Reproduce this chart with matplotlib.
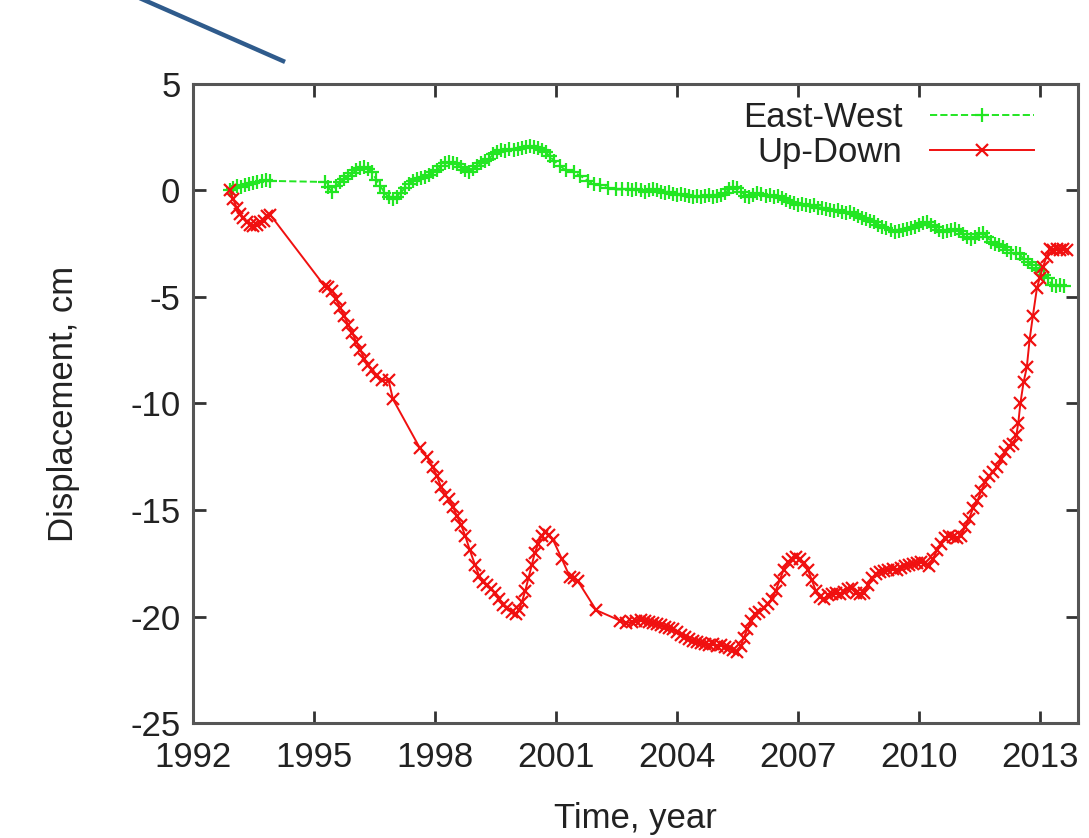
import matplotlib
matplotlib.use('Agg')
import matplotlib.pyplot as plt
from matplotlib.lines import Line2D

plt.rcParams['font.family'] = ['Liberation Sans', 'DejaVu Sans']
plt.rcParams['axes.unicode_minus'] = False

# East-West displacement (cm)
ew_years = [
    1992.92, 1993.0, 1993.1, 1993.2, 1993.3, 1993.4, 1993.5, 1993.6, 1993.7, 1993.8, 1993.9,
    1995.27, 1995.35, 1995.45, 1995.55, 1995.65, 1995.75, 1995.85, 1995.95, 1996.05, 1996.15,
    1996.25, 1996.35, 1996.45, 1996.55, 1996.65, 1996.75, 1996.85, 1996.95, 1997.05, 1997.15,
    1997.25, 1997.35, 1997.45, 1997.55, 1997.65, 1997.75, 1997.85, 1997.95, 1998.05, 1998.15,
    1998.25, 1998.35, 1998.45, 1998.55, 1998.65, 1998.75, 1998.85, 1998.95, 1999.05, 1999.15,
    1999.25, 1999.35, 1999.45, 1999.55, 1999.65, 1999.75, 1999.85, 1999.95, 2000.05, 2000.15,
    2000.25, 2000.35, 2000.45, 2000.55, 2000.65, 2000.75, 2000.85, 2000.95, 2001.1, 2001.25,
    2001.45, 2001.6, 2001.8, 2001.95, 2002.1, 2002.3, 2002.5, 2002.65, 2002.8, 2002.9,
    2003.0, 2003.1, 2003.2, 2003.3, 2003.4, 2003.5, 2003.6, 2003.7, 2003.8, 2003.9,
    2004.0, 2004.1, 2004.2, 2004.3, 2004.4, 2004.5, 2004.6, 2004.7, 2004.8, 2004.9,
    2005.0, 2005.1, 2005.2, 2005.3, 2005.4, 2005.5, 2005.6, 2005.7, 2005.8, 2005.9,
    2006.0, 2006.1, 2006.2, 2006.3, 2006.4, 2006.5, 2006.6, 2006.7, 2006.8, 2006.9,
    2007.0, 2007.1, 2007.2, 2007.3, 2007.4, 2007.5, 2007.6, 2007.7, 2007.8, 2007.9,
    2008.0, 2008.1, 2008.2, 2008.3, 2008.4, 2008.5, 2008.6, 2008.7, 2008.8, 2008.9,
    2009.0, 2009.1, 2009.2, 2009.3, 2009.4, 2009.5, 2009.6, 2009.7, 2009.8, 2009.9,
    2010.0, 2010.1, 2010.2, 2010.3, 2010.4, 2010.5, 2010.6, 2010.7, 2010.8, 2010.9,
    2011.0, 2011.1, 2011.2, 2011.3, 2011.4, 2011.5, 2011.6, 2011.7, 2011.8, 2011.9,
    2012.0, 2012.1, 2012.2, 2012.3, 2012.4, 2012.5, 2012.6, 2012.7, 2012.8, 2012.9,
    2013.0, 2013.1, 2013.2, 2013.3, 2013.4, 2013.5, 2013.6,
]
ew_disp = [
    0.0, 0.1, 0.2, 0.15, 0.25, 0.3, 0.35, 0.4, 0.45, 0.5, 0.45,
    0.4, 0.15, -0.05, 0.2, 0.4, 0.55, 0.7, 0.8, 0.95, 1.05,
    1.1, 1.0, 0.85, 0.5, 0.2, -0.1, -0.3, -0.4, -0.3, -0.1,
    0.1, 0.3, 0.45, 0.55, 0.6, 0.65, 0.75, 0.85, 0.95, 1.15,
    1.3, 1.35, 1.3, 1.25, 1.1, 0.95, 0.85, 1.0, 1.15, 1.3,
    1.4, 1.5, 1.7, 1.8, 1.9, 1.85, 1.95, 1.9, 1.95, 2.0,
    2.05, 2.1, 2.05, 2.0, 1.9, 1.8, 1.6, 1.4, 1.15, 0.95,
    0.85, 0.7, 0.45, 0.3, 0.25, 0.1, 0.05, 0.05, 0.05, 0.0,
    0.05, 0.0, -0.05, 0.0, 0.05, 0.0, -0.05, -0.1, -0.05, -0.15,
    -0.2, -0.15, -0.2, -0.25, -0.3, -0.25, -0.3, -0.25, -0.2, -0.3,
    -0.25, -0.2, -0.1, 0.05, 0.15, 0.1, -0.05, -0.25, -0.3, -0.2,
    -0.1, -0.15, -0.25, -0.2, -0.3, -0.25, -0.35, -0.45, -0.55, -0.6,
    -0.7, -0.65, -0.7, -0.75, -0.7, -0.8, -0.8, -0.85, -0.9, -0.95,
    -0.9, -1.0, -1.05, -1.0, -1.1, -1.2, -1.3, -1.35, -1.45, -1.5,
    -1.6, -1.7, -1.75, -1.85, -1.95, -1.9, -1.85, -1.8, -1.75, -1.7,
    -1.6, -1.55, -1.5, -1.6, -1.7, -1.85, -1.95, -1.9, -1.85, -1.8,
    -1.9, -2.05, -2.2, -2.3, -2.2, -2.05, -2.0, -2.2, -2.4, -2.5,
    -2.55, -2.65, -2.8, -2.95, -2.95, -3.0, -3.2, -3.35, -3.5, -3.65,
    -3.75, -3.95, -4.1, -4.45, -4.5, -4.45, -4.5,
]

# Up-Down displacement (cm)
ud_years = [
    1992.92, 1993.0, 1993.08, 1993.17, 1993.25, 1993.33, 1993.42, 1993.5, 1993.58, 1993.67,
    1993.75, 1993.83, 1993.92,
    1995.27, 1995.35, 1995.45, 1995.55, 1995.65, 1995.75, 1995.85, 1995.95, 1996.05, 1996.15,
    1996.25, 1996.35, 1996.45, 1996.55, 1996.7, 1996.85, 1996.96,
    1997.63, 1997.8, 1997.95, 1998.05, 1998.15, 1998.25, 1998.35, 1998.45, 1998.55, 1998.65,
    1998.75, 1998.87, 1999.0, 1999.1, 1999.2, 1999.3, 1999.4, 1999.5, 1999.6, 1999.7,
    1999.8, 1999.9, 2000.0, 2000.08, 2000.16, 2000.24, 2000.32, 2000.4, 2000.48, 2000.56,
    2000.65, 2000.73, 2000.82, 2000.93, 2001.15, 2001.35, 2001.45, 2001.55, 2002.0, 2002.6,
    2002.75, 2002.9, 2003.0, 2003.1, 2003.2, 2003.3, 2003.4, 2003.5, 2003.6, 2003.7,
    2003.8, 2003.9, 2004.0, 2004.1, 2004.2, 2004.3, 2004.4, 2004.5, 2004.6, 2004.7,
    2004.8, 2004.9, 2005.0, 2005.1, 2005.2, 2005.3, 2005.4, 2005.5, 2005.58, 2005.66,
    2005.75, 2005.85, 2005.95, 2006.05, 2006.15, 2006.25, 2006.35, 2006.45, 2006.55, 2006.65,
    2006.75, 2006.85, 2006.95, 2007.05, 2007.15, 2007.25, 2007.35, 2007.45, 2007.55, 2007.65,
    2007.75, 2007.85, 2007.95, 2008.05, 2008.15, 2008.25, 2008.35, 2008.45, 2008.55, 2008.65,
    2008.75, 2008.85, 2008.95, 2009.05, 2009.15, 2009.25, 2009.35, 2009.45, 2009.55, 2009.65,
    2009.75, 2009.85, 2009.95, 2010.05, 2010.15, 2010.25, 2010.35, 2010.45, 2010.55, 2010.65,
    2010.75, 2010.85, 2010.95, 2011.05, 2011.15, 2011.25, 2011.35, 2011.45, 2011.55, 2011.65,
    2011.75, 2011.85, 2011.95, 2012.05, 2012.15, 2012.25, 2012.35, 2012.42, 2012.47, 2012.52,
    2012.6, 2012.68, 2012.75, 2012.83, 2012.93, 2013.0, 2013.08, 2013.17, 2013.25, 2013.33,
    2013.42, 2013.5, 2013.58, 2013.67,
]
ud_disp = [
    0.0, -0.4, -0.8, -1.1, -1.3, -1.5, -1.6, -1.65, -1.6, -1.5,
    -1.45, -1.2, -1.15,
    -4.5, -4.55, -4.7, -5.1, -5.5, -5.9, -6.3, -6.7, -7.1, -7.5,
    -7.9, -8.2, -8.45, -8.7, -8.9, -8.9, -9.8,
    -12.1, -12.5, -13.0, -13.4, -13.9, -14.3, -14.5, -14.85, -15.3, -15.7,
    -16.2, -16.9, -17.6, -18.1, -18.4, -18.5, -18.7, -18.9, -19.2, -19.45,
    -19.6, -19.8, -19.9, -19.7, -19.3, -18.8, -18.2, -17.6, -17.0, -16.6,
    -16.2, -16.05, -16.15, -16.4, -17.3, -18.15, -18.2, -18.35, -19.7, -20.2,
    -20.3, -20.25, -20.2, -20.15, -20.2, -20.25, -20.3, -20.35, -20.4, -20.5,
    -20.55, -20.6, -20.75, -20.85, -20.95, -21.05, -21.15, -21.2, -21.25, -21.3,
    -21.35, -21.3, -21.4, -21.35, -21.45, -21.5, -21.55, -21.65, -21.4, -21.0,
    -20.6, -20.2, -19.9, -19.8, -19.6, -19.4, -19.2, -18.8, -18.3, -17.8,
    -17.45, -17.3, -17.2, -17.3, -17.5, -17.8, -18.3, -18.8, -19.1, -19.2,
    -19.0, -18.95, -18.9, -18.95, -18.85, -18.7, -18.65, -18.9, -18.95, -18.9,
    -18.5, -18.2, -18.0, -17.9, -17.85, -17.8, -17.75, -17.8, -17.7, -17.65,
    -17.6, -17.55, -17.5, -17.45, -17.5, -17.65, -17.3, -16.9, -16.6, -16.3,
    -16.2, -16.25, -16.3, -16.2, -15.8, -15.4, -14.9, -14.6, -14.1, -13.7,
    -13.4, -13.2, -13.0, -12.6, -12.3, -12.0, -11.9, -11.5, -10.9, -10.0,
    -9.0, -8.3, -7.0, -5.9, -4.6, -4.1, -3.6, -3.1, -2.75, -2.8,
    -2.75, -2.8, -2.75, -2.8,
]

year_ticks = [1992, 1995, 1998, 2001, 2004, 2007, 2010, 2013]
disp_ticks = [5, 0, -5, -10, -15, -20, -25]

green = '#22e622'
red = '#f01010'
edge = '#555555'
txt = '#222222'
fs = 25

fig = plt.figure(figsize=(10.89, 8.38), dpi=100)
ax = fig.add_axes([0.1772, 0.1372, 0.8127, 0.7626])

ax.plot(ew_years, ew_disp, color=green, linestyle='--', linewidth=1.4,
        marker='+', markersize=10, markeredgewidth=1.6, label='East-West')
ax.plot(ud_years, ud_disp, color=red, linestyle='-', linewidth=1.4,
        marker='x', markersize=8, markeredgewidth=1.6, label='Up-Down')

ax.set_xlim(1992, 2013.95)
ax.set_ylim(-25, 5)
ax.set_xticks(year_ticks)
ax.set_yticks(disp_ticks)

for s in ax.spines.values():
    s.set_color(edge)
    s.set_linewidth(2.2)
ax.tick_params(direction='in', length=9, width=2, color='#333333',
               top=True, right=True, labelsize=fs, labelcolor=txt)
ax.tick_params(axis='x', pad=13)
ax.tick_params(axis='y', pad=9)

ax.set_xlabel('Time, year', fontsize=fs, color=txt, labelpad=20)
ax.set_ylabel('Displacement, cm', fontsize=fs, color=txt, labelpad=36)

leg = ax.legend(loc='upper right', bbox_to_anchor=(0.97, 1.0), frameon=False,
                markerfirst=False, fontsize=fs, handlelength=3.0,
                handletextpad=0.8, labelspacing=0.05, borderaxespad=0.1,
                numpoints=1)
for t in leg.get_texts():
    t.set_color(txt)

# stray diagonal stroke at the top-left of the picture
fig.add_artist(Line2D([125 / 1089, 283 / 1089], [1.01, 1 - 61 / 838],
                      transform=fig.transFigure, color='#2f5b8c', linewidth=3.2))

fig.savefig('out.png', dpi=100)
